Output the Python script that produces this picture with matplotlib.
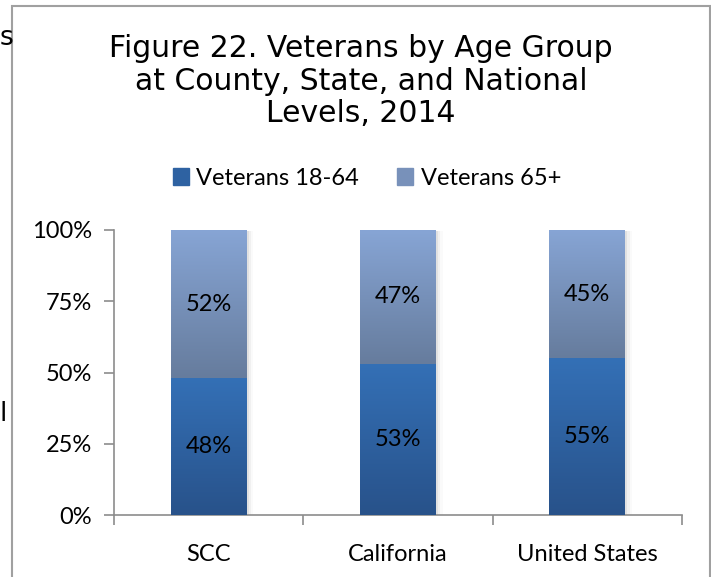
import numpy as np
import matplotlib
matplotlib.use("Agg")
import matplotlib.pyplot as plt
from matplotlib.colors import LinearSegmentedColormap
from matplotlib.patches import Rectangle

places = ["SCC", "California", "United States"]
vets_18_64 = [48, 53, 55]
vets_65 = [52, 47, 45]
series_names = ["Veterans 18-64", "Veterans 65+"]

# gradient colours (top, bottom)
grad_young = ("#3470B6", "#28528A")
grad_old = ("#87A5D5", "#667C9D")

fig = plt.figure(figsize=(7.11, 5.77), dpi=100)
ax = fig.add_axes([114 / 711, 1 - 515 / 577, (682 - 114) / 711, (515 - 230) / 577])

x = np.arange(len(places))
b1 = ax.bar(x, vets_18_64, width=0.4, color=grad_young[0], zorder=2)
b2 = ax.bar(x, vets_65, width=0.4, bottom=vets_18_64, color=grad_old[0], zorder=2)


def paint(bars, cols):
    cmap = LinearSegmentedColormap.from_list("g", [cols[1], cols[0]])
    grad = np.linspace(0, 1, 256).reshape(-1, 1)
    for p in bars:
        x0, y0 = p.get_x(), p.get_y()
        w, h = p.get_width(), p.get_height()
        # soft shadow on the right
        for k, a in enumerate([0.06, 0.04, 0.02]):
            ax.add_patch(Rectangle((x0 + w, y0 - 0.3), 0.012 * (k + 1), h, color="black",
                                   alpha=a, lw=0, zorder=1))
        im = ax.imshow(grad, cmap=cmap, aspect="auto", origin="lower",
                       extent=(x0, x0 + w, y0, y0 + h), zorder=3)
        im.set_clip_path(p)


paint(b1, grad_young)
paint(b2, grad_old)

lab_font = dict(family="Lato", fontsize=17, color="black")
for i in x:
    ax.text(i, vets_18_64[i] / 2, f"{vets_18_64[i]}%", ha="center", va="center", zorder=4, **lab_font)
    ax.text(i, vets_18_64[i] + vets_65[i] / 2, f"{vets_65[i]}%", ha="center", va="center",
            zorder=4, **lab_font)

ax.set_xlim(-0.5, 2.5)
ax.set_ylim(0, 100)
ax.set_yticks([0, 25, 50, 75, 100])
ax.set_yticklabels(["0%", "25%", "50%", "75%", "100%"], **lab_font)
ax.set_xticks(x)
ax.set_xticklabels(places, **lab_font)
ax.tick_params(axis="x", length=0, pad=21)
ax.set_xticks([-0.5, 0.5, 1.5, 2.5], minor=True)
ax.tick_params(axis="x", which="minor", length=7, color="#8c8c8c", width=1.2)
ax.tick_params(axis="y", length=7, color="#8c8c8c", width=1.2, pad=9)
for s in ["top", "right"]:
    ax.spines[s].set_visible(False)
for s in ["left", "bottom"]:
    ax.spines[s].set_color("#8c8c8c")
    ax.spines[s].set_linewidth(1.2)

# legend
handles = [Rectangle((0, 0), 1, 1, color="#2E62A2"), Rectangle((0, 0), 1, 1, color="#7891BA")]
fig.legend(handles, series_names, loc="center", bbox_to_anchor=(0.516, 1 - 178 / 577), ncol=2,
           frameon=False, prop=dict(family="Lato", size=17), handlelength=0.7, handleheight=0.7,
           handletextpad=0.3, columnspacing=1.6)

fig.text(0.508, 1 - 81 / 577, "Figure 22. Veterans by Age Group\nat County, State, and National\nLevels, 2014",
         ha="center", va="center", family="DejaVu Sans", fontsize=21.5, linespacing=1.17)

# chart frame
fig.add_artist(Rectangle((12 / 711, -0.05), (710 - 12) / 711, 1.05 - 6 / 577, transform=fig.transFigure,
                         fill=False, edgecolor="#a0a0a0", lw=1.5))
# text from surrounding document, at the left edge
fig.text(0.0, 1 - 38 / 577, "s", ha="left", va="center", fontsize=19, family="DejaVu Sans")
fig.text(0.0, 1 - 414 / 577, "l", ha="left", va="center", fontsize=19, family="DejaVu Sans")

fig.savefig("out.png", dpi=100)
